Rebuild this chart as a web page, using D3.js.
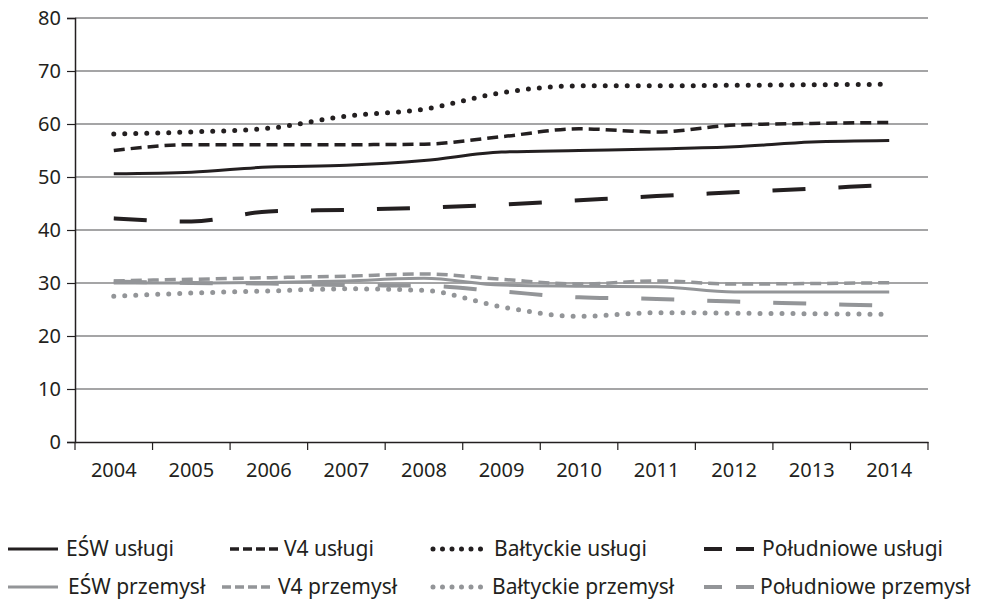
<!DOCTYPE html>
<html lang="pl">
<head>
<meta charset="utf-8">
<script src="https://d3js.org/d3.v7.min.js"></script>
<style>
  body { margin: 0; background: #fff; }
  svg text { font-family: "Noto Sans", sans-serif; font-size: 20px; fill: #231f20; }
  .legend text { font-size: 21px; }
</style>
</head>
<body>
<svg id="chart" width="989" height="603"></svg>
<script>
  var years = ["2004","2005","2006","2007","2008","2009","2010","2011","2012","2013","2014"];
  var yTicks = [0, 10, 20, 30, 40, 50, 60, 70, 80];

  var eswUslugi   = [50.6, 50.9, 51.9, 52.2, 53.1, 54.7, 55.0, 55.3, 55.7, 56.6, 56.9];
  var v4Uslugi    = [55.0, 56.1, 56.1, 56.1, 56.2, 57.6, 59.1, 58.5, 59.8, 60.1, 60.3];
  var baltUslugi  = [58.1, 58.5, 59.2, 61.5, 62.8, 65.9, 67.2, 67.2, 67.3, 67.4, 67.5];
  var poludUslugi = [42.2, 41.6, 43.5, 43.8, 44.2, 44.8, 45.6, 46.4, 47.1, 47.8, 48.5];

  var eswPrzem    = [30.0, 30.0, 30.1, 30.4, 30.9, 29.6, 29.4, 29.3, 28.3, 28.3, 28.3];
  var v4Przem     = [30.4, 30.7, 31.0, 31.3, 31.7, 30.7, 29.8, 30.4, 29.8, 29.9, 30.05];
  var baltPrzem   = [27.5, 28.1, 28.5, 28.9, 28.6, 25.5, 23.7, 24.4, 24.3, 24.2, 24.1];
  var poludPrzem  = [30.3, 30.0, 29.9, 29.6, 29.5, 28.4, 27.3, 27.0, 26.5, 26.1, 25.7];

  var black = "#231f20", gray = "#939598";

  var series = [
    {name: "EŚW usługi", values: eswUslugi, color: black, w: 3, dash: null, ldash: null},
    {name: "V4 usługi", values: v4Uslugi, color: black, w: 3.5, dash: "11 6", ldash: "9 4"},
    {name: "Bałtyckie usługi", values: baltUslugi, color: black, w: 5, dash: "0 11", ldash: "0 9.5", cap: "round"},
    {name: "Południowe usługi", values: poludUslugi, color: black, w: 4, dash: "33 33", ldash: "18 14"},
    {name: "EŚW przemysł", values: eswPrzem, color: gray, w: 3, dash: null, ldash: null},
    {name: "V4 przemysł", values: v4Przem, color: gray, w: 3.5, dash: "11 6", ldash: "9 4"},
    {name: "Bałtyckie przemysł", values: baltPrzem, color: gray, w: 5, dash: "0 11", ldash: "0 9.5", cap: "round"},
    {name: "Południowe przemysł", values: poludPrzem, color: gray, w: 4, dash: "33 33", ldash: "18 14"}
  ];

  var svg = d3.select("#chart");
  var mLeft = 75, mRight = 928, mTop = 18, mBottom = 442;

  var x = d3.scaleBand().domain(years).range([mLeft, mRight]);
  var y = d3.scaleLinear().domain([0, 80]).range([mBottom, mTop]);

  // gridlines
  svg.append("g")
    .selectAll("line")
    .data(yTicks.filter(function(d) { return d > 0; }))
    .enter().append("line")
    .attr("x1", mLeft).attr("x2", mRight)
    .attr("y1", function(d) { return y(d); })
    .attr("y2", function(d) { return y(d); })
    .attr("stroke", "#4d4d4f").attr("stroke-width", 1.2);

  // y axis
  var yAxis = svg.append("g")
    .attr("transform", "translate(" + mLeft + ",0)")
    .call(d3.axisLeft(y).tickValues(yTicks).tickSize(8).tickPadding(6));
  yAxis.select(".domain").attr("stroke", black).attr("stroke-width", 1.5);
  yAxis.selectAll(".tick line").attr("stroke", black).attr("stroke-width", 1.2);

  // x axis: ticks between categories
  var xAxis = svg.append("g")
    .attr("transform", "translate(0," + mBottom + ")")
    .call(d3.axisBottom(x).tickSize(0).tickPadding(21));
  xAxis.select(".domain").attr("stroke", black).attr("stroke-width", 1.5);
  var bounds = years.map(function(d) { return x(d); }).concat([mRight]);
  xAxis.selectAll(".sep")
    .data(bounds)
    .enter().append("line")
    .attr("x1", function(d) { return d; }).attr("x2", function(d) { return d; })
    .attr("y1", 0).attr("y2", 8)
    .attr("stroke", black).attr("stroke-width", 1.2);

  var line = d3.line()
    .x(function(d, i) { return x(years[i]) + x.bandwidth() / 2; })
    .y(function(d) { return y(d); })
    .curve(d3.curveMonotoneX);

  // draw industry first, services on top
  var order = [4, 5, 6, 7, 0, 1, 2, 3];
  svg.append("g").selectAll("path")
    .data(order.map(function(i) { return series[i]; }))
    .enter().append("path")
    .attr("d", function(s) { return line(s.values); })
    .attr("fill", "none")
    .attr("stroke", function(s) { return s.color; })
    .attr("stroke-width", function(s) { return s.w; })
    .attr("stroke-dasharray", function(s) { return s.dash; })
    .attr("stroke-linecap", function(s) { return s.cap || "butt"; });

  // legend
  var legendPos = [
    [8, 66], [230, 284], [433, 494], [704, 762],
    [8, 68], [222, 278], [433, 492], [704, 760]
  ];
  var legend = svg.append("g").attr("class", "legend");
  series.forEach(function(s, i) {
    var ly = i < 4 ? 549 : 587;
    var p = legendPos[i];
    legend.append("line")
      .attr("x1", p[0]).attr("x2", p[0] + 50)
      .attr("y1", ly).attr("y2", ly)
      .attr("stroke", s.color)
      .attr("stroke-width", s.w)
      .attr("stroke-dasharray", s.ldash)
      .attr("stroke-linecap", s.cap || "butt");
    legend.append("text")
      .attr("x", p[1]).attr("y", ly)
      .attr("dy", "0.35em")
      .text(s.name);
  });
</script>
</body>
</html>
